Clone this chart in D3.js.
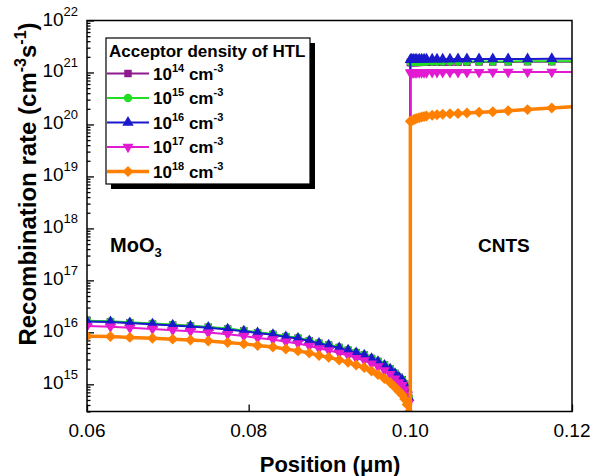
<!DOCTYPE html>
<html>
<head>
<meta charset="utf-8">
<script src="https://cdn.jsdelivr.net/npm/d3@7"></script>
<style>
body{margin:0;background:#fff}
svg{display:block;font-family:Arial,"Liberation Sans",sans-serif}
</style>
</head>
<body>
<svg id="chart" width="592" height="476"></svg>
<script>
// position (um): MoO3 side then CNTS side, mesh gets dense at the 0.10 interface
const position=[0.0600,0.0629,0.0653,0.0681,0.0706,0.0728,0.0750,0.0774,0.0794,0.0811,0.0830,0.0846,0.0861,0.0875,0.0887,0.0899,0.0912,0.0923,0.0933,0.0943,0.0952,0.0960,0.0968,0.0975,0.0981,0.0986,0.0990,0.0993,0.0996,0.0998,0.1000,
  0.1000,0.1001,0.1002,0.1004,0.1006,0.1008,0.1011,0.1014,0.1017,0.1020,0.1027,0.1033,0.1040,0.1049,0.1059,0.1070,0.1085,0.1102,0.1121,0.1145,0.1175,0.1200];

// recombination rate (cm-3 s-1) for each HTL acceptor density
const rate14=[1.65e16,1.60e16,1.53e16,1.45e16,1.38e16,1.32e16,1.25e16,1.16e16,1.07e16,9.8e15,9.1e15,8.2e15,7.7e15,6.9e15,6.2e15,5.7e15,5.1e15,4.55e15,4.05e15,3.65e15,3.15e15,2.75e15,2.35e15,1.97e15,1.62e15,1.37e15,1.22e15,1.02e15,8.1e14,5.6e14,2.0e14,
  1.55e21,1.55e21,1.55e21,1.56e21,1.56e21,1.56e21,1.56e21,1.57e21,1.57e21,1.57e21,1.57e21,1.57e21,1.58e21,1.58e21,1.58e21,1.58e21,1.59e21,1.59e21,1.59e21,1.60e21,1.60e21,1.60e21];
const rate15=[1.68e16,1.63e16,1.56e16,1.48e16,1.41e16,1.34e16,1.27e16,1.18e16,1.09e16,1.0e16,9.3e15,8.4e15,7.9e15,7.0e15,6.3e15,5.8e15,5.2e15,4.65e15,4.15e15,3.7e15,3.2e15,2.8e15,2.4e15,2.0e15,1.66e15,1.4e15,1.24e15,1.04e15,8.3e14,5.7e14,2.1e14,
  1.60e21,1.60e21,1.60e21,1.61e21,1.61e21,1.61e21,1.61e21,1.61e21,1.62e21,1.62e21,1.62e21,1.62e21,1.62e21,1.62e21,1.63e21,1.63e21,1.63e21,1.63e21,1.63e21,1.64e21,1.64e21,1.64e21];
const rate16=[1.62e16,1.58e16,1.51e16,1.43e16,1.36e16,1.30e16,1.23e16,1.14e16,1.05e16,9.7e15,9.0e15,8.1e15,7.6e15,6.8e15,6.1e15,5.6e15,5.0e15,4.5e15,4.0e15,3.6e15,3.1e15,2.7e15,2.3e15,1.95e15,1.6e15,1.35e15,1.2e15,1.0e15,8.0e14,5.5e14,2.0e14,
  1.76e21,1.77e21,1.77e21,1.78e21,1.78e21,1.78e21,1.79e21,1.79e21,1.79e21,1.79e21,1.80e21,1.80e21,1.80e21,1.80e21,1.81e21,1.81e21,1.81e21,1.82e21,1.82e21,1.82e21,1.83e21,1.83e21];
const rate17=[1.32e16,1.28e16,1.22e16,1.16e16,1.10e16,1.05e16,9.9e15,9.2e15,8.5e15,7.8e15,7.3e15,6.6e15,6.1e15,5.5e15,4.9e15,4.5e15,4.0e15,3.6e15,3.2e15,2.9e15,2.5e15,2.2e15,1.85e15,1.57e15,1.29e15,1.09e15,9.6e14,8.0e14,6.4e14,4.4e14,1.6e14,
  0.99e21,0.99e21,0.99e21,1.00e21,1.00e21,1.00e21,1.00e21,1.00e21,1.00e21,1.00e21,1.01e21,1.01e21,1.01e21,1.01e21,1.01e21,1.01e21,1.01e21,1.02e21,1.02e21,1.02e21,1.02e21,1.02e21];
const rate18=[8.4e15,8.3e15,8.0e15,7.7e15,7.4e15,7.1e15,6.8e15,6.4e15,6.0e15,5.6e15,5.2e15,4.8e15,4.4e15,4.0e15,3.6e15,3.3e15,2.95e15,2.65e15,2.35e15,2.1e15,1.8e15,1.55e15,1.3e15,1.08e15,8.8e14,7.3e14,6.3e14,5.2e14,4.1e14,2.9e14,1.0e14,
  1.15e20,1.17e20,1.19e20,1.23e20,1.27e20,1.31e20,1.35e20,1.39e20,1.42e20,1.45e20,1.50e20,1.54e20,1.57e20,1.60e20,1.63e20,1.66e20,1.71e20,1.76e20,1.83e20,1.93e20,2.08e20,2.20e20];

const seriesExp=["14","15","16","17","18"];
const seriesColor=["#8f1a8f","#22dd22","#1a1acc","#e21ad2","#ff8000"];
const xTicks=[0.06,0.08,0.10,0.12];
const yTickExp=[15,16,17,18,19,20,21,22];

const series=[rate14,rate15,rate16,rate17,rate18];

const svg=d3.select("#chart");
const x=d3.scaleLinear().domain([0.06,0.12]).range([87,572]);
const y=d3.scaleLog().domain([3e14,1e22]).range([411.5,20.5]);

svg.append("defs").append("clipPath").attr("id","plotclip")
  .append("rect").attr("x",87).attr("y",20.5).attr("width",485).attr("height",391);

// y ticks, pointing inward
const minorY=[];
for(let e=14;e<22;e++) for(let m=2;m<10;m++){const v=m*Math.pow(10,e); if(v>=3e14&&v<=1e22) minorY.push(v);}
const yMinor=svg.append("g").attr("transform","translate(87,0)")
  .call(d3.axisLeft(y).tickValues(minorY).tickSize(-3.5).tickFormat(""));
const yMajor=svg.append("g").attr("transform","translate(87,0)")
  .call(d3.axisLeft(y).tickValues(yTickExp.map(e=>Math.pow(10,e))).tickSize(-7).tickFormat(""));
const xAxis=svg.append("g").attr("transform","translate(0,411.5)")
  .call(d3.axisBottom(x).tickValues(xTicks).tickSize(-7).tickFormat(""));
[yMinor,yMajor,xAxis].forEach(g=>{g.select(".domain").remove();g.selectAll("line").attr("stroke","#000").attr("stroke-width",1.3);});

// tick labels
yTickExp.forEach(e=>{
  const t=svg.append("text").attr("x",78).attr("y",y(Math.pow(10,e))+5)
    .attr("text-anchor","end").attr("font-size",19);
  t.append("tspan").text("10");
  t.append("tspan").attr("dy",-10).attr("font-size",13).text(e);
});
xTicks.forEach(v=>{
  svg.append("text").attr("x",x(v)).attr("y",437).attr("text-anchor","middle")
    .attr("font-size",19).text(d3.format(".2f")(v));
});

// curves
const plot=svg.append("g").attr("clip-path","url(#plotclip)");
const line=d3.line().x((d,i)=>x(position[i])).y(d=>y(d));
const symbols=[
  {gen:d3.symbol().type(d3.symbolSquare).size(56),rot:0},
  {gen:d3.symbol().type(d3.symbolCircle).size(55),rot:0},
  {gen:d3.symbol().type(d3.symbolTriangle).size(56),rot:0},
  {gen:d3.symbol().type(d3.symbolTriangle).size(52),rot:180},
  {gen:d3.symbol().type(d3.symbolSquare).size(60),rot:45}
];

series.forEach((vals,k)=>{
  plot.append("path").datum(vals).attr("d",line).attr("fill","none")
    .attr("stroke",seriesColor[k]).attr("stroke-width",k==4?3.5:2);
  plot.selectAll(null).data(vals.filter((d,i)=>position[i]<0.12)).enter()
    .append("path").attr("d",symbols[k].gen())
    .attr("transform",(d,i)=>"translate("+x(position[i])+","+y(d)+") rotate("+symbols[k].rot+")")
    .attr("fill",seriesColor[k]);
});

// frame
svg.append("rect").attr("x",87).attr("y",20.5).attr("width",485).attr("height",391)
  .attr("fill","none").attr("stroke","#000").attr("stroke-width",1.5);

// legend
const lg=svg.append("g");
lg.append("rect").attr("x",111).attr("y",43).attr("width",204).attr("height",146).attr("fill","#000");
lg.append("rect").attr("x",106).attr("y",38).attr("width",204).attr("height",146)
  .attr("fill","#fff").attr("stroke","#000").attr("stroke-width",1.2);
lg.append("text").attr("x",109).attr("y",56.5).attr("font-size",17).attr("font-weight","bold")
  .text("Acceptor density of HTL");
seriesExp.forEach((ex,k)=>{
  const cy=73.5+k*24.5;
  lg.append("line").attr("x1",107).attr("x2",149).attr("y1",cy).attr("y2",cy)
    .attr("stroke",seriesColor[k]).attr("stroke-width",k==4?3.5:2);
  lg.append("path").attr("d",symbols[k].gen())
    .attr("transform","translate(128,"+cy+") rotate("+symbols[k].rot+")").attr("fill",seriesColor[k]);
  const t=lg.append("text").attr("x",153).attr("y",cy+6).attr("font-size",17).attr("font-weight","bold");
  t.append("tspan").text("10");
  t.append("tspan").attr("dy",-8).attr("font-size",11).text(ex);
  t.append("tspan").attr("dy",8).text(" cm");
  t.append("tspan").attr("dy",-8).attr("font-size",11).text("-3");
});

// region labels
const mo=svg.append("text").attr("x",110).attr("y",252).attr("font-size",20).attr("font-weight","bold");
mo.append("tspan").text("MoO");
mo.append("tspan").attr("dy",5).attr("font-size",13).text("3");
svg.append("text").attr("x",478).attr("y",252).attr("font-size",19).attr("font-weight","bold").text("CNTS");

// axis titles
svg.append("text").attr("x",330).attr("y",472).attr("text-anchor","middle")
  .attr("font-size",22).attr("font-weight","bold").text("Position (\u03bcm)");
const yt=svg.append("text").attr("transform","translate(36,184) rotate(-90)")
  .attr("text-anchor","middle").attr("font-size",24).attr("font-weight","bold");
yt.append("tspan").text("Recombination rate (cm");
yt.append("tspan").attr("dy",-10).attr("font-size",16).text("-3");
yt.append("tspan").attr("dy",10).text("s");
yt.append("tspan").attr("dy",-10).attr("font-size",16).text("-1");
yt.append("tspan").attr("dy",10).text(")");
</script>
</body>
</html>
